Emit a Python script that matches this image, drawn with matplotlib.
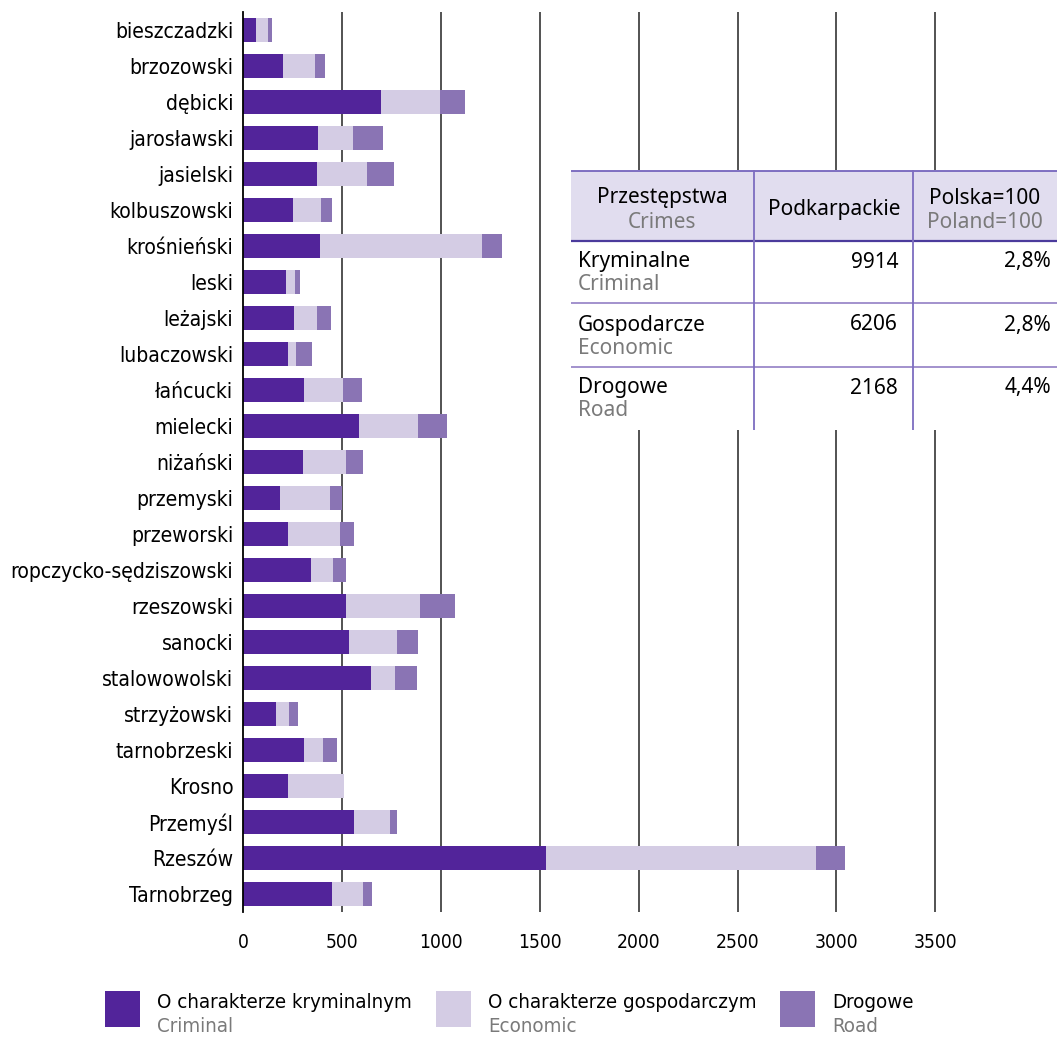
import numpy as np
import matplotlib
matplotlib.use('Agg')
import matplotlib.pyplot as plt
from matplotlib.patches import Rectangle
from matplotlib import font_manager

# data
powiaty = ['bieszczadzki', 'brzozowski', 'dębicki', 'jarosławski', 'jasielski',
           'kolbuszowski', 'krośnieński', 'leski', 'leżajski', 'lubaczowski',
           'łańcucki', 'mielecki', 'niżański', 'przemyski', 'przeworski',
           'ropczycko-sędziszowski', 'rzeszowski', 'sanocki', 'stalowowolski',
           'strzyżowski', 'tarnobrzeski', 'Krosno', 'Przemyśl', 'Rzeszów', 'Tarnobrzeg']
kryminalne = [68, 200, 696, 378, 373, 251, 388, 215, 256, 226, 306, 585, 301, 185,
              226, 342, 520, 534, 646, 166, 306, 226, 559, 1532, 448]
gospodarcze = [57, 162, 299, 176, 253, 142, 819, 47, 117, 41, 198, 299, 219, 253,
               263, 111, 374, 247, 122, 65, 98, 283, 183, 1367, 157]
drogowe = [20, 50, 127, 152, 137, 55, 101, 25, 70, 80, 96, 145, 85, 63,
           70, 67, 176, 103, 111, 46, 70, 0, 39, 142, 47]

xticks = [0, 500, 1000, 1500, 2000, 2500, 3000, 3500]

table_head_pl = ['Przestępstwa', 'Podkarpackie', 'Polska=100']
table_head_en = ['Crimes', '', 'Poland=100']
table_rows_pl = ['Kryminalne', 'Gospodarcze', 'Drogowe']
table_rows_en = ['Criminal', 'Economic', 'Road']
table_values = ['9914', '6206', '2168']
table_pct = ['2,8%', '2,8%', '4,4%']

legend_pl = ['O charakterze kryminalnym', 'O charakterze gospodarczym', 'Drogowe']
legend_en = ['Criminal', 'Economic', 'Road']

c_crim = '#52249a'
c_econ = '#d4cce4'
c_road = '#8a74b4'
gray = '#7a7a7a'

# pick a condensed face if one is installed, otherwise Roboto (narrowest of the lot)
cond_props = dict(family=['Roboto', 'DejaVu Sans'])
lab_fs, leg_fs, tick_fs = 14.4, 14, 13.5
for f in font_manager.fontManager.ttflist:
    st = str(f.stretch).lower()
    if ('condensed' in st or 'narrow' in f.name.lower() or 'condensed' in f.name.lower()) \
            and f.style == 'normal' and f.weight in (400, 'normal', 'regular'):
        cond_props = dict(family=[f.name, 'DejaVu Sans'], stretch=f.stretch)
        lab_fs, leg_fs, tick_fs = 15.1, 14.7, 13.8
        break
sans = ['Noto Sans', 'DejaVu Sans']

W, H = 1057, 1037
fig = plt.figure(figsize=(W / 100, H / 100), dpi=100)
ax = fig.add_axes([243 / W, 1 - 912 / H, 1 - 243 / W, 900 / H])

y = np.arange(len(powiaty))
k = np.array(kryminalne)
g = np.array(gospodarcze)
d = np.array(drogowe)
ax.barh(y, k, height=0.64, color=c_crim, zorder=3)
ax.barh(y, g, left=k, height=0.64, color=c_econ, zorder=3)
ax.barh(y, d, left=k + g, height=0.64, color=c_road, zorder=3)

ax.set_ylim(len(powiaty) - 0.5, -0.5)
ax.set_xlim(0, (W - 243.5) / 0.1977)
ax.set_yticks(y)
ax.set_yticklabels(powiaty, fontsize=lab_fs, **cond_props)
ax.set_xticks(xticks)
ax.set_xticklabels([str(t) for t in xticks], fontsize=tick_fs, **cond_props)
ax.tick_params(axis='y', length=0, pad=7)
ax.tick_params(axis='x', length=0, pad=15)
for t in xticks[1:]:
    ax.axvline(t, color='#444444', lw=1.3, zorder=1)
for s in ['top', 'right', 'bottom']:
    ax.spines[s].set_visible(False)
ax.spines['left'].set_color('black')
ax.spines['left'].set_linewidth(1.3)
ax.spines['left'].set_zorder(4)

# table in top right
tx, ty, tw, th = 571, 170, W - 571, 260
tax = fig.add_axes([tx / W, 1 - (ty + th) / H, tw / W, th / H])
tax.set_xlim(0, tw)
tax.set_ylim(th, 0)
tax.axis('off')
tax.add_patch(Rectangle((0, 0), tw, th, facecolor='white', edgecolor='none'))
tax.add_patch(Rectangle((0, 1), tw, 70, facecolor='#e1ddef', edgecolor='none'))
tax.plot([0, tw], [1, 1], color='#7565bd', lw=1.3)
tax.plot([0, tw], [71, 71], color='#4b3b9c', lw=1.6)
for yy in [133, 197]:
    tax.plot([0, tw], [yy, yy], color='#9b89c9', lw=1.3)
for xx in [183, 342]:
    tax.plot([xx, xx], [1, th], color='#7d6dc0', lw=1.3)

tfs = 15
col_c = [91, 263, 414]
for i in range(3):
    if table_head_en[i]:
        tax.text(col_c[i], 28, table_head_pl[i], ha='center', va='center', family=sans, fontsize=tfs)
        tax.text(col_c[i], 52, table_head_en[i], ha='center', va='center', family=sans, fontsize=tfs, color=gray)
    else:
        tax.text(col_c[i], 40, table_head_pl[i], ha='center', va='center', family=sans, fontsize=tfs)

row_y = [92, 155, 218]
for i in range(3):
    tax.text(7, row_y[i], table_rows_pl[i], ha='left', va='center', family=sans, fontsize=tfs)
    tax.text(7, row_y[i] + 23, table_rows_en[i], ha='left', va='center', family=sans, fontsize=tfs, color=gray)
    tax.text(327, row_y[i], table_values[i], ha='right', va='center', family=sans, fontsize=tfs)
    tax.text(480, row_y[i], table_pct[i], ha='right', va='center', family=sans, fontsize=tfs)

# legend at the bottom
leg_x = [105, 436, 780]
leg_c = [c_crim, c_econ, c_road]
for i in range(3):
    fig.patches.append(Rectangle((leg_x[i] / W, 1 - 1027 / H), 35 / W, 36 / H,
                                 facecolor=leg_c[i], edgecolor='none',
                                 transform=fig.transFigure, figure=fig))
    fig.text((leg_x[i] + 52) / W, 1 - 1002 / H, legend_pl[i], ha='left', va='center',
             fontsize=leg_fs, **cond_props)
    fig.text((leg_x[i] + 52) / W, 1 - 1027 / H, legend_en[i], ha='left', va='center',
             fontsize=leg_fs, color=gray, **cond_props)

fig.savefig('out.png', dpi=100)
